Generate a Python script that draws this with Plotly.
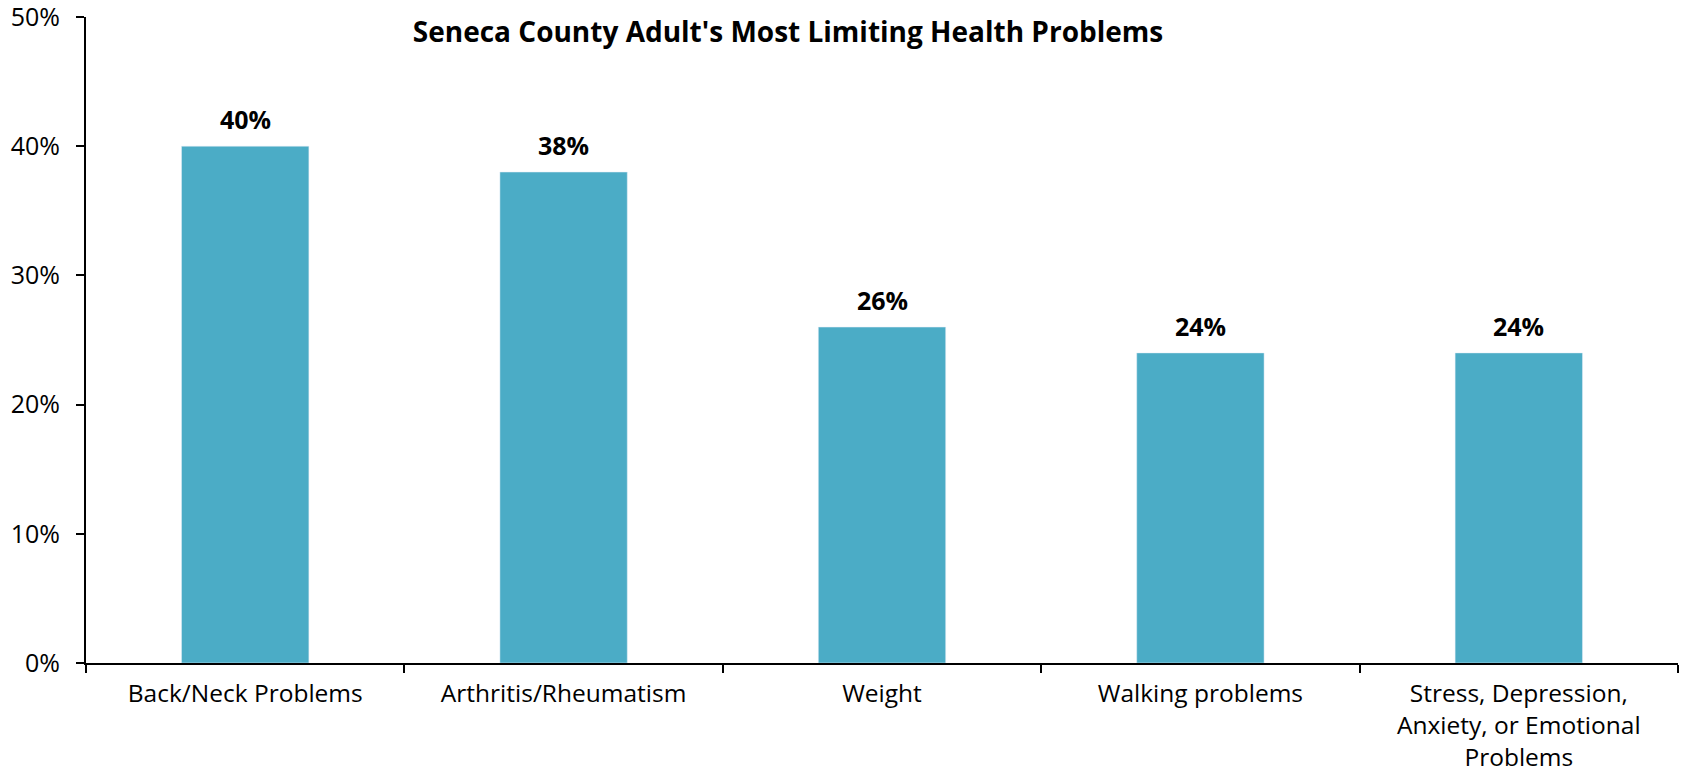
import plotly.graph_objects as go

categories = ["Back/Neck Problems", "Arthritis/Rheumatism", "Weight", "Walking problems",
              "Stress, Depression,<br>Anxiety, or Emotional<br>Problems"]
values = [0.40, 0.38, 0.26, 0.24, 0.24]
labels = ["40%", "38%", "26%", "24%", "24%"]
y_ticks = [0, 0.1, 0.2, 0.3, 0.4, 0.5]
y_tick_labels = ["0%", "10%", "20%", "30%", "40%", "50%"]
title_text = "Seneca County Adult's Most Limiting Health Problems"

FONT = "Open Sans"

fig = go.Figure(go.Bar(
    x=categories, y=values, marker_color="#4BACC6", cliponaxis=False,
))

for c, v, t in zip(categories, values, labels):
    fig.add_annotation(x=c, y=v, text="<b>" + t + "</b>", showarrow=False,
                       yanchor="bottom", yshift=8,
                       font=dict(family=FONT, size=25, color="black"))

W, H = 1685, 775
L, R, T, B = 86, 7, 17, 112
fig.update_layout(
    width=W, height=H,
    paper_bgcolor="white", plot_bgcolor="white",
    margin=dict(l=L, r=R, t=T, b=B),
    bargap=0.6,
    showlegend=False,
    font=dict(family=FONT, color="black"),
    title=dict(text="<b>" + title_text + "</b>", x=(788 - L) / (W - L - R), xref="paper", xanchor="center",
               y=1 - 32 / H, yref="container", yanchor="middle",
               font=dict(family=FONT, size=28, color="black")),
)
fig.update_xaxes(
    automargin=False,
    showline=True, linecolor="black", linewidth=2,
    ticks="outside", tickson="boundaries", ticklen=8, tickwidth=2, tickcolor="black",
    tickfont=dict(family=FONT, size=24.5, color="black"),
    showgrid=False, ticklabelstandoff=8, ticklabeloverflow="allow",
)
fig.update_yaxes(
    automargin=False,
    range=[0, 0.5], tickvals=y_ticks, ticktext=y_tick_labels,
    showline=True, linecolor="black", linewidth=2,
    ticks="outside", ticklen=8, tickwidth=2, tickcolor="black",
    tickfont=dict(family=FONT, size=25, color="black"),
    showgrid=False, zeroline=False, ticklabelstandoff=11, ticklabeloverflow="allow",
)

fig.write_html("out.html", config={"displayModeBar": False},
               post_script="document.body.style.margin='0';document.body.style.overflow='hidden';")
